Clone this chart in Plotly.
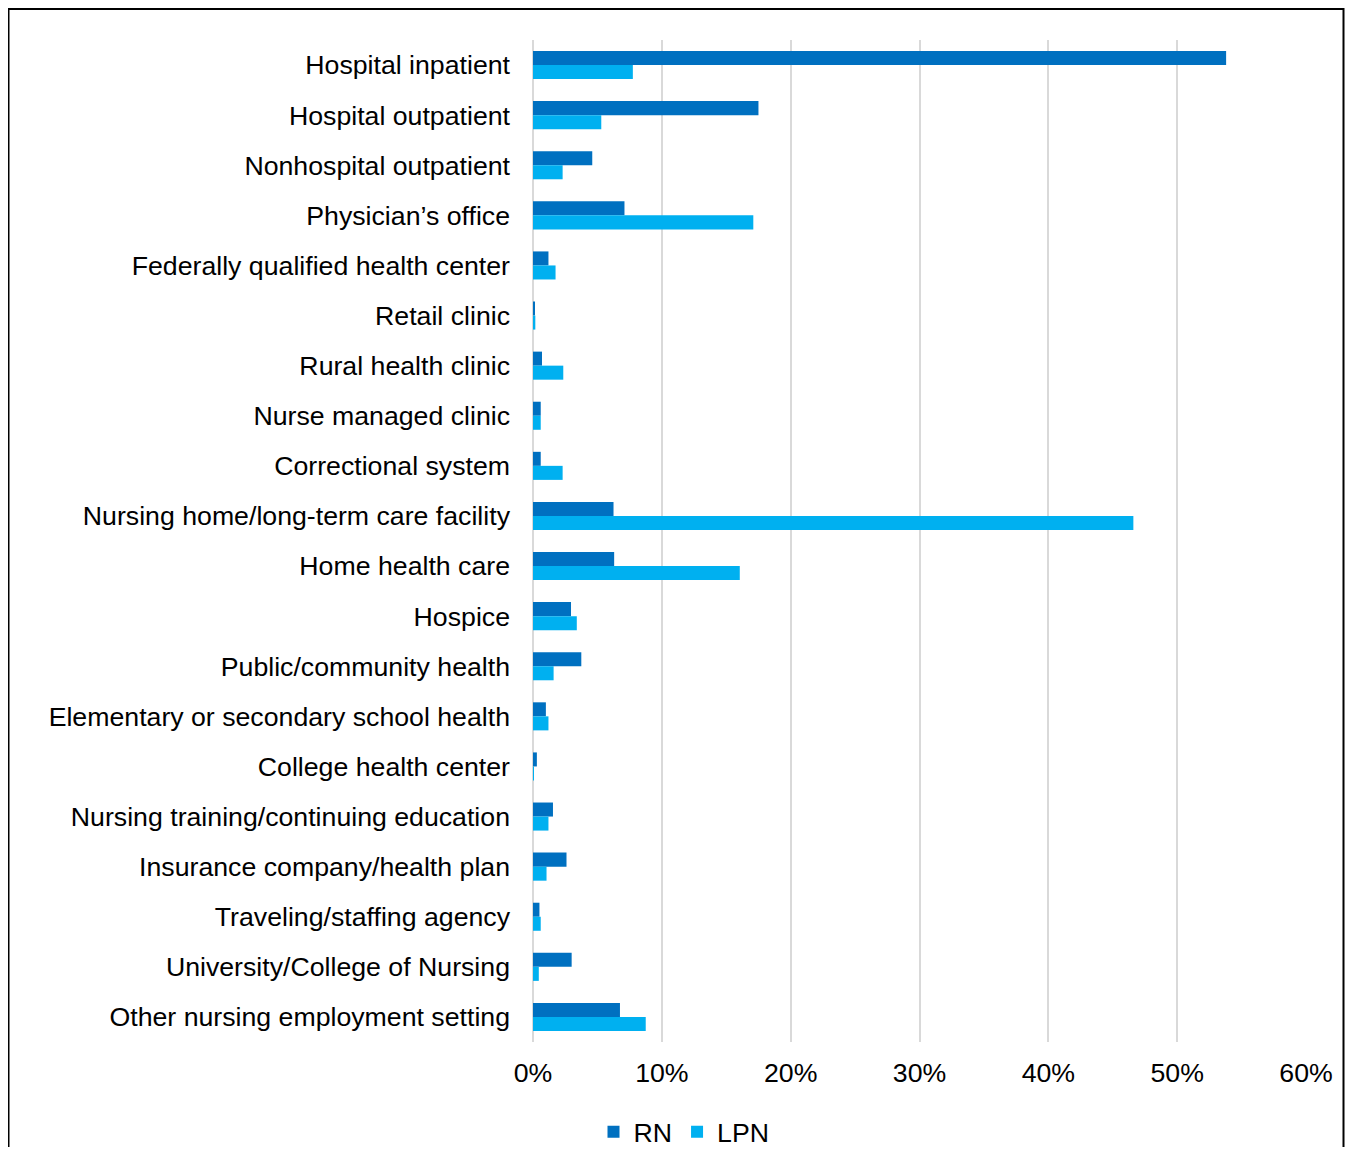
import plotly.graph_objects as go

categories = [
    "Hospital inpatient", "Hospital outpatient", "Nonhospital outpatient",
    "Physician\u2019s office", "Federally qualified health center", "Retail clinic",
    "Rural health clinic", "Nurse managed clinic", "Correctional system",
    "Nursing home/long-term care facility", "Home health care", "Hospice",
    "Public/community health", "Elementary or secondary school health",
    "College health center", "Nursing training/continuing education",
    "Insurance company/health plan", "Traveling/staffing agency",
    "University/College of Nursing", "Other nursing employment setting",
]
rn = [53.8, 17.5, 4.6, 7.1, 1.2, 0.1, 0.7, 0.6, 0.6, 6.25, 6.3, 2.95, 3.75,
      1.0, 0.3, 1.55, 2.6, 0.5, 3.0, 6.75]
lpn = [7.75, 5.3, 2.3, 17.1, 1.75, 0.18, 2.35, 0.6, 2.3, 46.6, 16.05, 3.4, 1.6,
       1.2, 0.05, 1.2, 1.05, 0.6, 0.45, 8.75]
x_ticks = [0, 10, 20, 30, 40, 50, 60]
x_tick_labels = ["0%", "10%", "20%", "30%", "40%", "50%", "60%"]

# page is offset by the 8px body margin; figure coordinates = page - 8
W, H = 1337, 1139
L, T = 525, 32
pw, ph = 773, 1002
R, B = W - L - pw, H - T - ph

fig = go.Figure()
fig.add_trace(go.Bar(y=categories, x=rn, name="RN", orientation="h",
                     marker=dict(color="#0070C0", line=dict(width=0))))
fig.add_trace(go.Bar(y=categories, x=lpn, name="LPN", orientation="h",
                     marker=dict(color="#00B0F0", line=dict(width=0))))

FS = 26.7
font = "Liberation Sans, Arial, sans-serif"
fig.update_layout(
    width=W, height=H,
    margin=dict(l=L, r=R, t=T, b=B, autoexpand=False),
    paper_bgcolor="white", plot_bgcolor="white",
    barmode="group", bargap=0.44, bargroupgap=0,
    font=dict(family=font, size=FS, color="black"),
    showlegend=True,
    legend=dict(orientation="h", xref="container", yref="container",
                x=676 / W, xanchor="center",
                y=(H - 1124) / H, yanchor="middle",
                font=dict(size=FS), itemwidth=30, traceorder="normal",
                itemsizing="constant", bgcolor="rgba(0,0,0,0)"),
    xaxis=dict(range=[0, 60], tickmode="array", tickvals=x_ticks,
               ticktext=x_tick_labels, automargin=False,
               showgrid=True, gridcolor="#d9d9d9", gridwidth=2,
               zeroline=True, zerolinecolor="#d9d9d9", zerolinewidth=2,
               showline=False, ticks="", ticklabelstandoff=12,
               tickfont=dict(size=FS)),
    yaxis=dict(autorange="reversed", showgrid=False, showline=False,
               automargin=False,
               ticks="", ticklabelstandoff=22, tickfont=dict(size=FS)),
    shapes=[dict(type="rect", xref="paper", yref="paper",
                 x0=(0.5 - L) / pw, x1=(W - 1.5 - L) / pw,
                 y0=(T + ph - 1300) / ph, y1=(T + ph - 1) / ph,
                 line=dict(color="black", width=2), fillcolor="rgba(0,0,0,0)",
                 layer="below")],
)

fig.write_html("out.html")
